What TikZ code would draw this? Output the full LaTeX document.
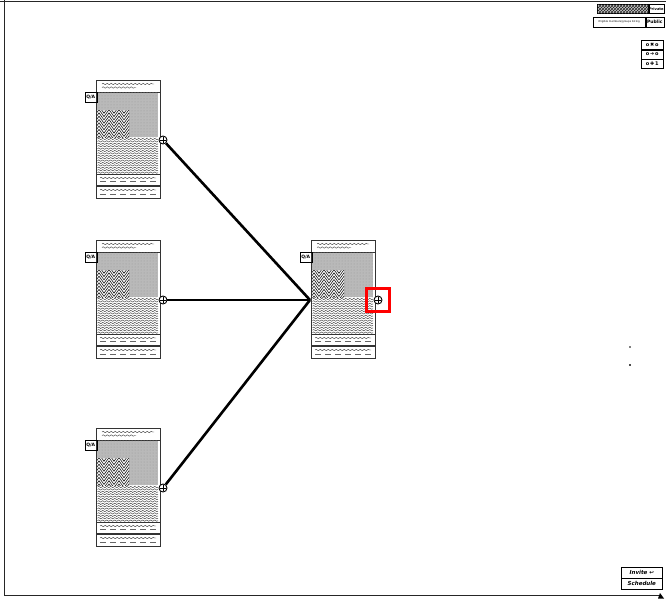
\documentclass[tikz,border=0pt]{standalone}
\usepackage{fontspec}
\setmainfont{DejaVu Sans}
\usetikzlibrary{decorations.pathmorphing,patterns}
\tikzset{
  frameline/.style={line width=0.9pt,black!85},
  cardline/.style={line width=0.6pt,black!80},
  wavy/.style={line width=0.4pt,black!80,decorate,decoration={snake,segment length=4pt,amplitude=0.7pt}},
  dashline/.style={line width=0.4pt,black!60,dash pattern=on 6pt off 4pt},
  link/.style={line width=2.6pt,black},
  plusnode/.style={circle,draw,line width=0.9pt,fill=white,inner sep=0pt,minimum size=8pt,
    path picture={\draw[line width=0.7pt] ([xshift=1pt]path picture bounding box.west)--([xshift=-1pt]path picture bounding box.east)
      ([yshift=-1pt]path picture bounding box.north)--([yshift=1pt]path picture bounding box.south);}},
  tagbox/.style={draw,line width=0.5pt,inner sep=0.6pt,font=\fontsize{4.5}{4.5}\selectfont\bfseries,minimum height=10pt,minimum width=12pt},
  legbox/.style={draw,line width=0.5pt,inner sep=0pt,anchor=north west},
  btn/.style={draw,line width=0.6pt,minimum width=41pt,minimum height=10.5pt,inner sep=0pt,font=\fontsize{5.5}{5.5}\selectfont\itshape\bfseries},
  card/.pic={
    % outer frame and header band
    \draw[cardline] (0,0) rectangle (64,118);
    \draw[cardline] (0,12) -- (64,12);
    \draw[wavy] (6,4) -- (58,4);
    \draw[wavy] (6,7.5) -- (40,7.5);
    % shaded media area
    \fill[gray!55] (1,12.5) rectangle (62,57);
    \fill[pattern=dots,pattern color=gray!80] (1,12.5) rectangle (62,57);
    % herringbone thumbnail
    \begin{scope}
      \clip (1,30) rectangle (33,57);
      \fill[white] (1,30) rectangle (33,57);
      \foreach \k in {0,...,11}{
        \draw[line width=0.6pt,black!90]
          (-2,30+3.3*\k) -- ++(5,-7) -- ++(5,7) -- ++(5,-7) -- ++(5,7) -- ++(5,-7) -- ++(5,7) -- ++(5,-7) -- ++(5,7);
      }
    \end{scope}
    % body text lines
    \foreach \k in {0,...,14}{
      \draw[wavy] (1.5,59+2.4*\k) -- (62,59+2.4*\k);
    }
    % footer boxes
    \draw[cardline] (0,94) rectangle (64,105);
    \draw[cardline] (0,106) rectangle (64,118);
    \draw[wavy] (4,98) -- (60,98);
    \draw[dashline] (4,101.5) -- (60,101.5);
    \draw[wavy] (4,110) -- (60,110);
    \draw[dashline] (4,114) -- (60,114);
    % side tag
    \node[tagbox,anchor=north east] (tag) at (1,12) {Q/A};
    % link handle
    \node[plusnode] (plus) at (67,60) {};
    \coordinate (in) at (-1,60);
  }
}
\begin{document}
\begin{tikzpicture}[x=1pt,y=-1pt]
\useasboundingbox (0,0) rectangle (666,600);
\fill[white] (0,0) rectangle (666,600);
% outer frame
\draw[frameline] (0,1) -- (666,1);
\draw[frameline] (4,0) -- (4,595.5) -- (660,595.5);
\fill[black] (660,593) -- (664,598.5) -- (658,598.5) -- cycle;

% source cards
\pic (a) at (96,80) {card};
\pic (b) at (96,240) {card};
\pic (c) at (96,428) {card};
% target card
\pic (t) at (311,240) {card};

% connectors
\draw[link] (aplus) -- (tin);
\draw[link] (bplus) -- (tin);
\draw[link] (cplus) -- (tin);

% highlight on the target handle
\node[draw=red,line width=3.5pt,minimum width=23pt,minimum height=23pt,inner sep=0pt] (hl) at (tplus) {};

% legend
\node[legbox,minimum width=51pt,minimum height=9pt,fill=gray!40,postaction={pattern=crosshatch,pattern color=black!85}] (priv) at (597,4) {};
\node[tagbox,anchor=west,minimum height=9pt,minimum width=15pt,inner sep=0.3pt,font=\fontsize{3.6}{3.6}\selectfont\bfseries] (privl) at (priv.east) {Private};
\node[legbox,minimum width=52pt,minimum height=10pt,font=\fontsize{2.6}{2.6}\selectfont] (pub) at (593,17) {Eligible members/groups listing};
\node[tagbox,anchor=west,minimum height=10pt,minimum width=18pt,inner sep=0.3pt,font=\fontsize{4.5}{4.5}\selectfont\bfseries] (publ) at (pub.east) {Public};

% tool buttons
\node[legbox,minimum width=22pt,minimum height=9pt,font=\fontsize{5}{5}\selectfont\bfseries] (t1) at (641,40) {o\,✖\,o};
\node[legbox,minimum width=22pt,minimum height=9pt,font=\fontsize{5}{5}\selectfont\bfseries,anchor=north] (t2) at (t1.south) {o\,➜\,o};
\node[legbox,minimum width=22pt,minimum height=9pt,font=\fontsize{5}{5}\selectfont\bfseries,anchor=north] (t3) at (t2.south) {o\,✚\,1};

% stray marks
\fill[black!50] (629,346) rectangle (630.5,347.5);
\fill[black!70] (629,364) rectangle (630.5,365.5);

% action buttons
\node[btn,anchor=north west] (invite) at (621,567) {Invite ↩};
\node[btn,anchor=north] (sched) at (invite.south) {Schedule};
\end{tikzpicture}
\end{document}
